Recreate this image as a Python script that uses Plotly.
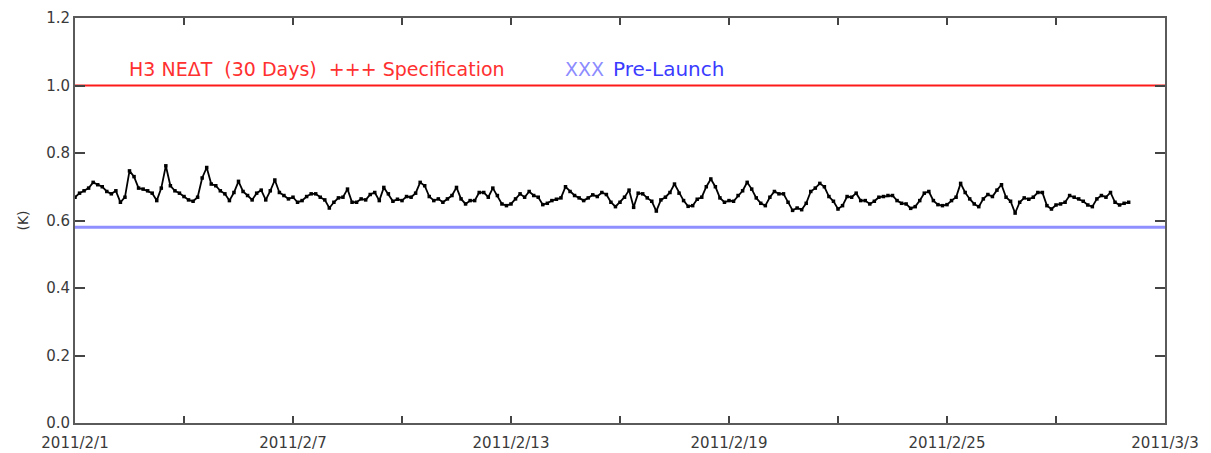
import pandas as pd
import plotly.graph_objects as go

# H3 NEdT, 3-hourly samples starting 2011-02-01 00:00 (K)
nedt = [
    0.669, 0.681, 0.688, 0.696, 0.713, 0.706, 0.700, 0.686,
    0.679, 0.688, 0.654, 0.669, 0.747, 0.730, 0.696, 0.693,
    0.688, 0.681, 0.659, 0.696, 0.762, 0.703, 0.688, 0.681,
    0.671, 0.661, 0.657, 0.669, 0.726, 0.757, 0.708, 0.703,
    0.688, 0.679, 0.659, 0.683, 0.716, 0.686, 0.674, 0.661,
    0.681, 0.690, 0.661, 0.688, 0.720, 0.683, 0.674, 0.664,
    0.669, 0.654, 0.659, 0.671, 0.679, 0.679, 0.669, 0.661,
    0.637, 0.654, 0.667, 0.669, 0.693, 0.654, 0.654, 0.664,
    0.661, 0.677, 0.683, 0.659, 0.698, 0.679, 0.657, 0.663,
    0.659, 0.671, 0.669, 0.681, 0.713, 0.703, 0.671, 0.659,
    0.664, 0.654, 0.664, 0.674, 0.698, 0.664, 0.649, 0.659,
    0.659, 0.683, 0.683, 0.669, 0.696, 0.674, 0.649, 0.644,
    0.649, 0.664, 0.679, 0.669, 0.686, 0.674, 0.669, 0.647,
    0.651, 0.659, 0.663, 0.667, 0.700, 0.686, 0.674, 0.667,
    0.659, 0.667, 0.676, 0.671, 0.683, 0.677, 0.654, 0.641,
    0.654, 0.669, 0.690, 0.639, 0.681, 0.679, 0.667, 0.657,
    0.628, 0.661, 0.669, 0.683, 0.708, 0.681, 0.659, 0.642,
    0.644, 0.663, 0.669, 0.700, 0.723, 0.700, 0.667, 0.654,
    0.659, 0.657, 0.674, 0.688, 0.713, 0.693, 0.667, 0.651,
    0.644, 0.669, 0.686, 0.679, 0.679, 0.654, 0.630, 0.637,
    0.632, 0.651, 0.686, 0.696, 0.710, 0.700, 0.671, 0.657,
    0.634, 0.644, 0.671, 0.669, 0.681, 0.659, 0.659, 0.649,
    0.657, 0.669, 0.671, 0.674, 0.674, 0.659, 0.651, 0.649,
    0.636, 0.641, 0.659, 0.681, 0.686, 0.659, 0.647, 0.644,
    0.647, 0.659, 0.669, 0.710, 0.683, 0.664, 0.649, 0.641,
    0.664, 0.677, 0.671, 0.690, 0.706, 0.669, 0.657, 0.622,
    0.654, 0.667, 0.663, 0.669, 0.683, 0.683, 0.644, 0.634,
    0.646, 0.649, 0.654, 0.674, 0.669, 0.664, 0.657, 0.646,
    0.641, 0.664, 0.674, 0.669, 0.683, 0.654, 0.646, 0.651,
    0.654,
]
spec_level = 1.00        # specification
prelaunch_level = 0.58   # pre-launch value

x_start, x_end = "2011-02-01", "2011-03-03"
tick_dates = pd.date_range(x_start, x_end, freq="3D")
tick_text = [f"{d.year}/{d.month}/{d.day}" if i % 2 == 0 else "" for i, d in enumerate(tick_dates)]
y_ticks = [0.0, 0.2, 0.4, 0.6, 0.8, 1.0, 1.2]

times = pd.date_range(x_start, periods=len(nedt), freq="3h")
span = [pd.Timestamp(x_start), pd.Timestamp(x_end)]

fig = go.Figure()
fig.add_trace(go.Scatter(
    x=span, y=[prelaunch_level] * 2, mode="lines",
    line=dict(color="#8f8fff", width=3), hoverinfo="skip"))
fig.add_trace(go.Scatter(
    x=span, y=[spec_level] * 2, mode="lines",
    line=dict(color="#ff1a1a", width=2), hoverinfo="skip"))
fig.add_trace(go.Scatter(
    x=times, y=nedt, mode="lines+markers",
    line=dict(color="black", width=1.8),
    marker=dict(color="black", size=3.5, symbol="square")))

txt_font = dict(family="DejaVu Sans", size=19)
label_y = 1.05
fig.add_annotation(x=0.048, y=label_y, xref="paper", yref="y", xanchor="left", yanchor="middle",
                   text="H3 NEΔT  (30 Days)  +++ Specification", showarrow=False,
                   font=dict(color="#ff3030", **txt_font))
fig.add_annotation(x=0.448, y=label_y, xref="paper", yref="y", xanchor="left", yanchor="middle",
                   text="XXX", showarrow=False, font=dict(color="#8c8cff", **txt_font))
fig.add_annotation(x=0.492, y=label_y, xref="paper", yref="y", xanchor="left", yanchor="middle",
                   text="Pre-Launch", showarrow=False, font=dict(color="#3b3bff", size=20,
                                                                 family="DejaVu Sans"))

axis_common = dict(showline=True, linecolor="#5a5a5a", linewidth=2, mirror="allticks",
                   ticks="inside", tickcolor="#444444", tickwidth=2, showgrid=False,
                   zeroline=False, automargin=False,
                   tickfont=dict(family="DejaVu Sans", size=15, color="#3a3a3a"))

fig.update_layout(
    width=1211, height=453,
    margin=dict(l=75, r=46, t=18, b=30),
    paper_bgcolor="white", plot_bgcolor="white",
    showlegend=False,
    xaxis=dict(range=span, tickvals=tick_dates, ticktext=tick_text, ticklen=7,
               ticklabelstandoff=5, **axis_common),
    yaxis=dict(range=[0, 1.2], tickvals=y_ticks, tickformat=".1f", ticklen=10,
               title=dict(text="(K)", font=dict(family="DejaVu Sans", size=14, color="#333333"),
                          standoff=14),
               **axis_common),
)

fig.write_html("out.html")
